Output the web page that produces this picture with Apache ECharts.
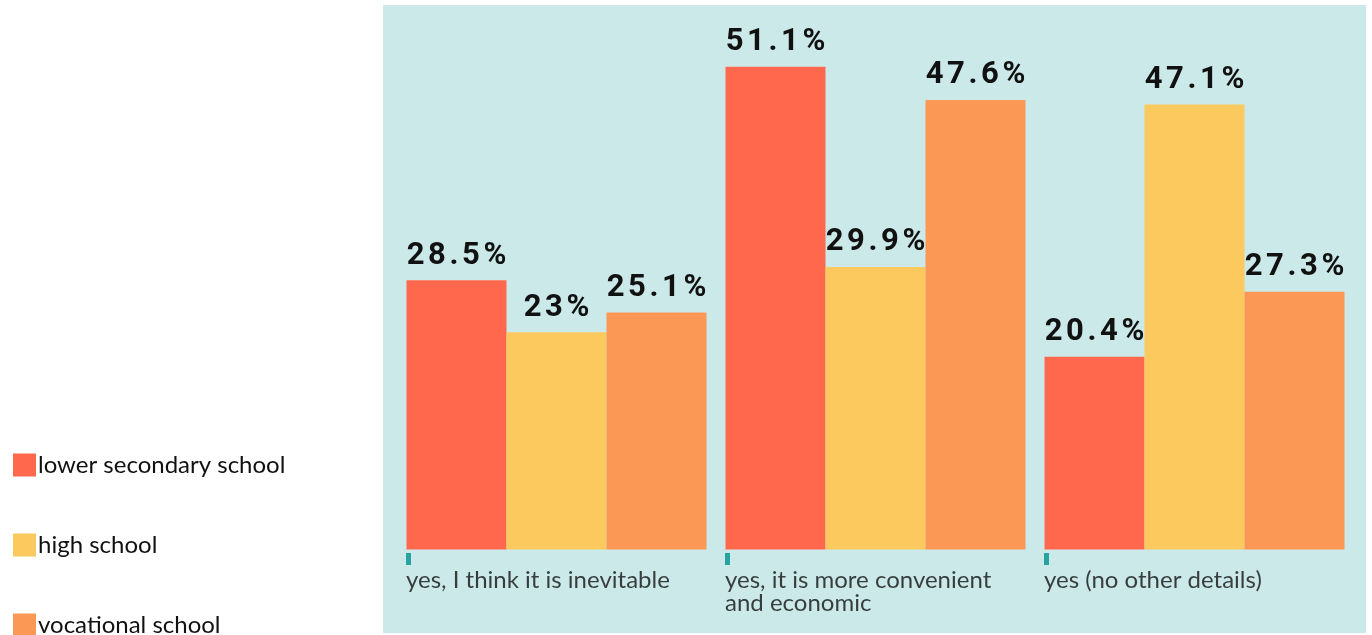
<!DOCTYPE html>
<html>
<head>
<meta charset="utf-8">
<script src="https://cdn.jsdelivr.net/npm/echarts@6/dist/echarts.min.js"></script>
<style>
  html, body { margin: 0; padding: 0; background: #ffffff; }
  #chart { width: 1372px; height: 635px; }
</style>
</head>
<body>
<div id="chart"></div>
<script>
// Answer categories (x axis)
const categories = [
  'yes, I think it is inevitable',
  'yes, it is more convenient and economic',
  'yes (no other details)'
];

// Share of respondents (%) by school type
const lowerSecondary = [28.5, 51.1, 20.4];
const highSchool = [23, 29.9, 47.1];
const vocational = [25.1, 47.6, 27.3];

const seriesNames = ['lower secondary school', 'high school', 'vocational school'];
const seriesColors = ['#FF684D', '#FCC95E', '#FB9855'];

const labelFont = 'Lato';
const labelSize = 24;
const valueFont = 'Roboto';

// word-wrap a category name to a pixel width, without leading spaces on new lines
const measureCtx = document.createElement('canvas').getContext('2d');
function wrapWords(text, maxWidth) {
  measureCtx.font = labelSize + 'px ' + labelFont;
  const words = text.split(' ');
  const lines = [];
  let line = '';
  words.forEach(w => {
    const trial = line ? line + ' ' + w : w;
    if (line && measureCtx.measureText(trial).width > maxWidth) {
      lines.push(line);
      line = w;
    } else {
      line = trial;
    }
  });
  if (line) lines.push(line);
  return lines.join('\n');
}

// value label with slightly opened letter spacing, one rich fragment per character
function spacedValue(v) {
  return String(v + '%').split('').map(ch => '{c|' + ch + '}').join('');
}

function barSeries(name, data, color) {
  return {
    name: name,
    type: 'bar',
    data: data,
    barWidth: 100,
    barGap: '0%',
    itemStyle: { color: color },
    label: {
      show: true,
      position: 'top',
      distance: 9,
      formatter: p => spacedValue(p.value),
      rich: {
        c: {
          color: '#111111',
          fontFamily: valueFont,
          fontWeight: 'bold',
          fontSize: 31,
          padding: [0, 1.8]
        }
      }
    },
    emphasis: { disabled: true }
  };
}

function legendFor(i, top) {
  return {
    data: [seriesNames[i]],
    orient: 'vertical',
    left: 8,
    top: top,
    itemWidth: 23,
    itemHeight: 23,
    icon: 'rect',
    selectedMode: false,
    textStyle: { fontFamily: labelFont, fontSize: labelSize, color: '#111111', padding: [0, 0, 0, -3] }
  };
}

const chart = echarts.init(document.getElementById('chart'), null, { renderer: 'canvas' });

chart.setOption({
  animation: false,
  graphic: [{
    type: 'rect',
    z: -1,
    shape: { x: 383, y: 5, width: 983, height: 628 },
    style: { fill: '#CBE9E9' },
    silent: true
  }],
  legend: [legendFor(0, 448), legendFor(1, 528), legendFor(2, 608)],
  grid: { left: 397, width: 957, top: 30, bottom: 85.5 },
  xAxis: {
    type: 'category',
    data: categories,
    axisLine: { show: false },
    axisTick: { show: false },
    axisLabel: { show: false },
    splitLine: { show: false }
  },
  yAxis: {
    type: 'value',
    min: 0,
    max: 55,
    show: false,
    splitLine: { show: false }
  },
  series: [
    barSeries(seriesNames[0], lowerSecondary, seriesColors[0]),
    barSeries(seriesNames[1], highSchool, seriesColors[1]),
    barSeries(seriesNames[2], vocational, seriesColors[2]),
    {
      // teal marker and category label at the left edge of each bar group
      name: 'category-marks',
      type: 'scatter',
      clip: false,
      silent: true,
      data: categories.map(c => [c, 0]),
      symbol: 'rect',
      symbolSize: [5, 12],
      symbolOffset: [-148, 9.5],
      itemStyle: { color: '#009090' },
      label: {
        show: true,
        position: [0, 16],
        align: 'left',
        verticalAlign: 'top',
        formatter: p => wrapWords(p.value[0], 285),
        lineHeight: 23,
        fontFamily: labelFont,
        fontSize: labelSize,
        color: '#111111'
      },
      emphasis: { disabled: true }
    }
  ]
});
</script>
</body>
</html>
